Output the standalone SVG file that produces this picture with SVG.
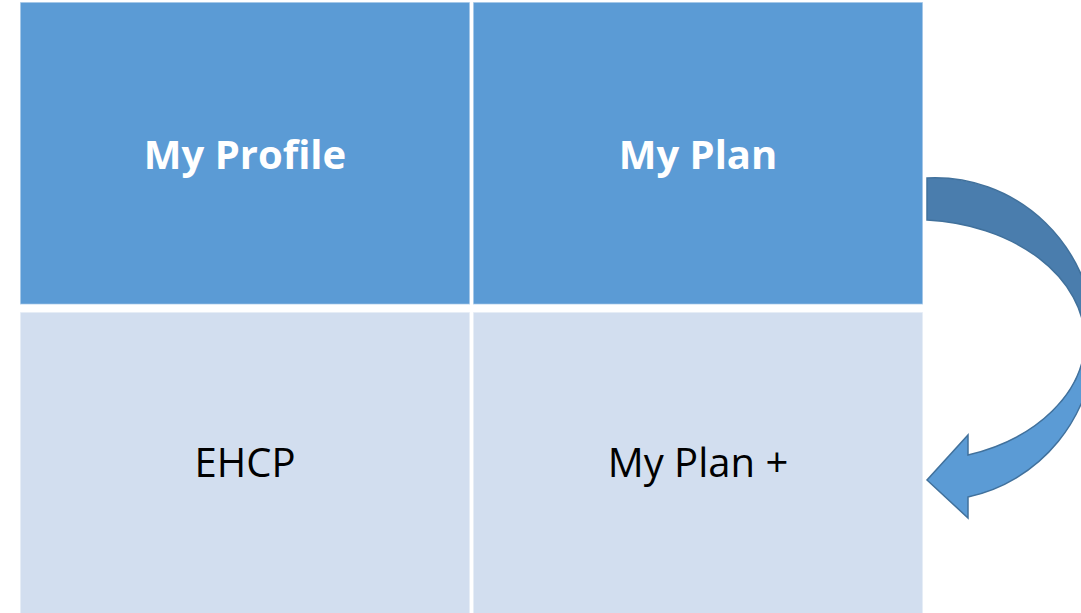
<svg xmlns="http://www.w3.org/2000/svg" width="1081" height="613" viewBox="0 0 1081 613">
  <style>
    .cell { stroke: #ffffff; stroke-opacity: 0.6; stroke-width: 1.5; }
    .dark { fill: #5B9BD5; }
    .light { fill: #D2DEEF; }
    .lbl { font-family: "Open Sans", "Liberation Sans", sans-serif; font-size: 40px; text-anchor: middle; }
    .head { fill: #ffffff; font-weight: bold; }
    .body { fill: #000000; }
  </style>
  <defs>
    <linearGradient id="arrowFill" x1="0" y1="178" x2="0" y2="518" gradientUnits="userSpaceOnUse">
      <stop offset="0" stop-color="#4A7DAD"/>
      <stop offset="0.45" stop-color="#4A7DAD"/>
      <stop offset="0.6" stop-color="#5B9BD5"/>
      <stop offset="1" stop-color="#5B9BD5"/>
    </linearGradient>
  </defs>
  <rect width="1081" height="613" fill="#ffffff"/>

  <g id="my-profile">
    <rect class="cell dark" x="20" y="2" width="450" height="302.5"/>
    <text class="lbl head" x="245" y="169">My Profile</text>
  </g>
  <g id="my-plan">
    <rect class="cell dark" x="473" y="2" width="450" height="302.5"/>
    <text class="lbl head" x="698" y="169">My Plan</text>
  </g>
  <g id="ehcp">
    <rect class="cell light" x="20" y="312" width="450" height="305"/>
    <text class="lbl body" x="245" y="477">EHCP</text>
  </g>
  <g id="my-plan-plus">
    <rect class="cell light" x="473" y="312" width="450" height="305"/>
    <text class="lbl body" x="698" y="477">My Plan +</text>
  </g>

  <!-- curved arrow from My Plan round to My Plan + -->
  <g id="connectors">
    <path d="M927,178 A160,163 0 0 1 1095,341 A160,163 0 0 1 968,497 L968,518 L927,480 L968,435 L968,455 A170,122 0 0 0 1085,340 A170,122 0 0 0 927,220 Z"
          fill="url(#arrowFill)" stroke="#41719C" stroke-width="1.5" stroke-linejoin="miter"/>
  </g>
</svg>
